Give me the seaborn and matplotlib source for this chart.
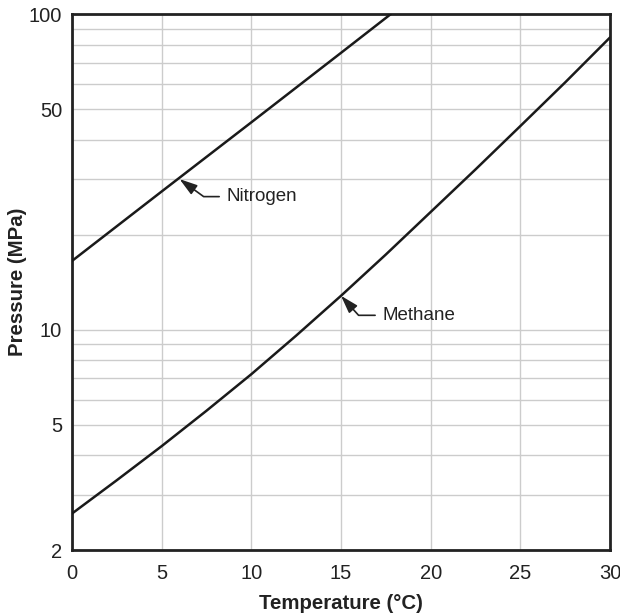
import numpy as np
import pandas as pd
import seaborn as sns
import matplotlib
import matplotlib.pyplot as plt
from matplotlib.ticker import FixedLocator, NullFormatter, FixedFormatter

sns.set_style('white')
matplotlib.rcParams['font.family'] = ['Liberation Sans', 'DejaVu Sans']

# values
nitrogen_temp = [0, 5, 10, 15, 17.77]
nitrogen_pres = [16.5, 27.4, 45.4, 75.4, 100.0]
methane_temp = [0, 2.5, 5, 7.5, 10, 12.5, 15, 17.5, 20, 22.5, 25, 27.5, 30]
methane_pres = [2.61, 3.33, 4.27, 5.53, 7.22, 9.57, 12.8, 17.3, 23.6, 32.2, 44.2, 60.8, 84.4]

y_ticks = [2, 5, 10, 50, 100]
y_minor = [3, 4, 6, 7, 8, 9, 20, 30, 40, 60, 70, 80, 90]
x_ticks = [0, 5, 10, 15, 20, 25, 30]

df = pd.concat([
    pd.DataFrame({'T': nitrogen_temp, 'P': nitrogen_pres, 'gas': 'Nitrogen'}),
    pd.DataFrame({'T': methane_temp, 'P': methane_pres, 'gas': 'Methane'}),
])

fig = plt.figure(figsize=(6.2, 6.16), dpi=100)
ax = fig.add_axes([0.116, 0.107, 0.868, 0.870])

sns.lineplot(data=df, x='T', y='P', units='gas', estimator=None, color='#1a1a1a',
             linewidth=1.8, ax=ax, legend=False, zorder=3)

ax.set_yscale('log')
ax.set_xlim(0, 30)
ax.set_ylim(2, 100)
ax.yaxis.set_major_locator(FixedLocator(y_ticks))
ax.yaxis.set_major_formatter(FixedFormatter([str(v) for v in y_ticks]))
ax.yaxis.set_minor_locator(FixedLocator(y_minor))
ax.yaxis.set_minor_formatter(NullFormatter())
ax.set_xticks(x_ticks)

ax.grid(True, which='both', axis='y', color='#cccccc', linewidth=1.0, zorder=0)
ax.grid(True, which='major', axis='x', color='#cccccc', linewidth=1.0, zorder=0)
ax.tick_params(axis='both', which='both', length=0, labelsize=14.5, colors='#222222')
ax.tick_params(axis='x', pad=10)
ax.tick_params(axis='y', pad=7)

for s in ax.spines.values():
    s.set_linewidth(2)
    s.set_color('#222222')

ax.set_xlabel('Temperature (°C)', fontsize=14.7, fontweight='bold', labelpad=8,
              color='#222222')
ax.set_ylabel('Pressure (MPa)', fontsize=14.7, fontweight='bold', labelpad=1,
              color='#222222')

ax.annotate('Nitrogen', xy=(6.0, 30.0), xytext=(8.6, 26.4), fontsize=13.5,
            ha='left', va='center', color='#222222',
            arrowprops=dict(arrowstyle='-|>,head_length=0.8,head_width=0.25',
                            color='#222222', lw=1.2, shrinkB=0,
                            connectionstyle='angle,angleA=0,angleB=-36,rad=0',
                            relpos=(-0.06, 0.5)))
ax.annotate('Methane', xy=(15.0, 12.8), xytext=(17.3, 11.1), fontsize=13.5,
            ha='left', va='center', color='#222222',
            arrowprops=dict(arrowstyle='-|>,head_length=0.8,head_width=0.25',
                            color='#222222', lw=1.2, shrinkB=0,
                            connectionstyle='angle,angleA=0,angleB=-48,rad=0',
                            relpos=(-0.06, 0.5)))

fig.savefig('out.png', dpi=100)
